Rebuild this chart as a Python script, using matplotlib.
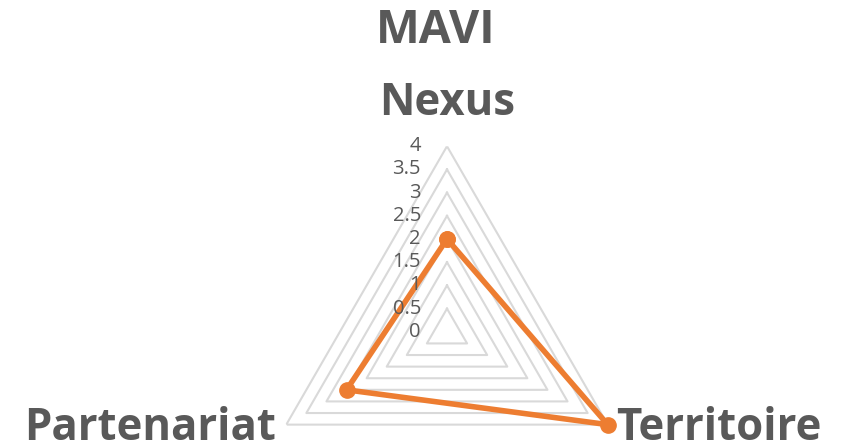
import numpy as np
import matplotlib.pyplot as plt
from matplotlib.transforms import ScaledTranslation

# donnees
categories = ['Nexus', 'Territoire', 'Partenariat']
valeurs = [2, 4, 2.5]
niveaux = [0.5, 1, 1.5, 2, 2.5, 3, 3.5, 4]
tick_labels = ['0', '0.5', '1', '1.5', '2', '2.5', '3', '3.5', '4']
titre = 'MAVI'

gris = '#595959'
orange = '#ED7D31'
police = 'Open Sans'

fig = plt.figure(figsize=(8.49, 4.48), dpi=100)
ax = fig.add_axes([0.3079, -0.155, 0.4372, 0.8286], projection='polar')
ax.set_theta_offset(np.pi / 2)
ax.set_theta_direction(-1)
ax.set_ylim(0, 4)
ax.grid(False)
ax.set_xticks([])
ax.set_yticks([])
ax.spines['polar'].set_visible(False)
ax.patch.set_visible(False)

angles = np.linspace(0, 2 * np.pi, len(categories), endpoint=False)
boucle = np.append(angles, angles[0])

# grille triangulaire
for r in niveaux:
    ax.plot(boucle, [r] * len(boucle), color='#D9D9D9', lw=1.5, zorder=1)

# serie
v = np.append(valeurs, valeurs[0])
ax.plot(boucle, v, color=orange, lw=4, marker='o', ms=11, zorder=3,
        solid_joinstyle='miter', clip_on=False)

# etiquettes de l'axe
decal = ScaledTranslation(-0.26, 0, fig.dpi_scale_trans)
for i, lab in enumerate(tick_labels):
    ax.text(0, i * 0.5, lab, transform=ax.transData + decal,
            ha='right', va='center', fontsize=14.5, color=gris, family=police)

# etiquettes des categories
taille = 31.5
ax.text(0, 4, categories[0], ha='center', va='bottom', fontsize=taille,
        fontweight='bold', color=gris, family=police,
        transform=ax.transData + ScaledTranslation(0, 0.2, fig.dpi_scale_trans))
ax.text(angles[1], 4, categories[1], ha='left', va='center', fontsize=taille,
        fontweight='bold', color=gris, family=police, clip_on=False,
        transform=ax.transData + ScaledTranslation(0.08, -0.04, fig.dpi_scale_trans))
ax.text(angles[2], 4, categories[2], ha='right', va='center', fontsize=taille,
        fontweight='bold', color=gris, family=police, clip_on=False,
        transform=ax.transData + ScaledTranslation(-0.1, -0.04, fig.dpi_scale_trans))

fig.text(0.5136, 0.933, titre, ha='center', va='center', fontsize=33.5,
         fontweight='bold', color=gris, family=police)

fig.savefig('out.png', dpi=100)
